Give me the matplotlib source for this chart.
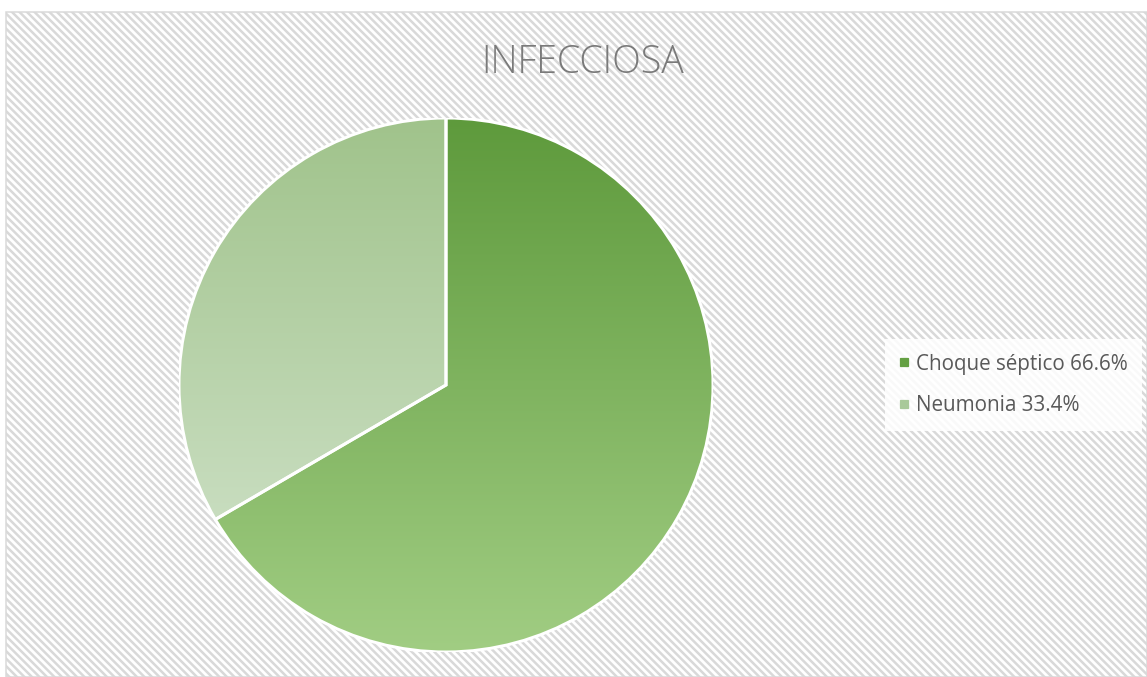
import matplotlib
matplotlib.use("Agg")
import matplotlib.pyplot as plt
import numpy as np
from matplotlib.patches import Wedge, Rectangle
from matplotlib.lines import Line2D
from matplotlib.colors import LinearSegmentedColormap

title = "INFECCIOSA"
labels = ["Choque séptico 66.6%", "Neumonia 33.4%"]
values = [66.6, 33.4]
top_colors = ["#5e9a3c", "#a0c38b"]
bottom_colors = ["#a1cd83", "#c8ddbf"]
legend_colors = ["#64a043", "#a9c99a"]

DPI = 90
W, H = 1147, 677
fig = plt.figure(figsize=(W / DPI, H / DPI), dpi=DPI)
plt.rcParams['hatch.linewidth'] = 2.0
plt.rcParams['hatch.color'] = '#dadada'

# background with diagonal hatch
bg = Rectangle((6 / W, 0), 1 - 6 / W, 1 - 12 / H, transform=fig.transFigure,
               facecolor='white', edgecolor='#d9d9d9', hatch='\\\\\\\\', lw=1.2, zorder=-10)
fig.patches.append(bg)

# pie axes
cx, cy, r = 446, 385, 267
ax = fig.add_axes([(cx - r) / W, (H - cy - r) / H, 2 * r / W, 2 * r / H], zorder=5)
ax.set_xlim(-1, 1)
ax.set_ylim(-1, 1)
ax.set_aspect('equal')
ax.axis('off')
ax.patch.set_alpha(0)

total = sum(values)
start = 90.0
for v, tc, bc in zip(values, top_colors, bottom_colors):
    ang = v / total * 360
    th1, th2 = start - ang, start
    w = Wedge((0, 0), 1, th1, th2, facecolor='none', edgecolor='none')
    ax.add_patch(w)
    ts = np.linspace(np.radians(th1), np.radians(th2), 400)
    ys = np.concatenate([np.sin(ts), [0]])
    ymin, ymax = ys.min(), ys.max()
    cmap = LinearSegmentedColormap.from_list('g', [bc, tc])
    grad = np.linspace(0, 1, 256).reshape(-1, 1)
    im = ax.imshow(grad, cmap=cmap, origin='lower', aspect='auto',
                   extent=[-1, 1, ymin, ymax], zorder=1, interpolation='bicubic')
    im.set_clip_path(w)
    edge = Wedge((0, 0), 1, th1, th2, facecolor='none', edgecolor='white', lw=2.4, zorder=2)
    ax.add_patch(edge)
    start -= ang
ax.set_xlim(-1, 1)
ax.set_ylim(-1, 1)

# title
fig.text(583 / W, 1 - 63 / H, title, ha='center', va='center', fontsize=30,
         color='#7a7a7a', family='Open Sans', fontweight='light')

# legend
handles = [Line2D([], [], marker='s', linestyle='none', markersize=6.4,
                  markerfacecolor=c, markeredgecolor=c) for c in legend_colors]
leg = fig.legend(handles, labels, loc='center left', bbox_to_anchor=(885 / W, 1 - 385 / H),
                 frameon=True, fancybox=False, edgecolor='none', facecolor='white',
                 framealpha=0.85, handlelength=0.4, handletextpad=0.4, labelspacing=1.0,
                 borderpad=0.7, borderaxespad=0, prop={'family': 'Open Sans', 'size': 16.5})
leg.set_zorder(6)
for t in leg.get_texts():
    t.set_color('#595959')

fig.savefig('out.png', dpi=DPI)
